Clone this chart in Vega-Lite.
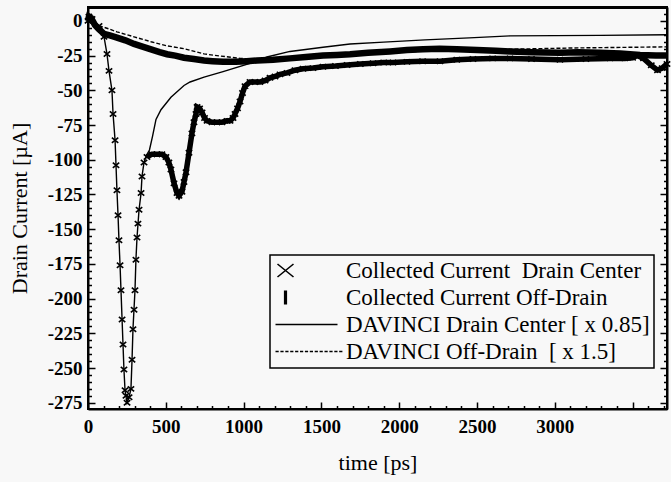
{
  "$schema": "https://vega.github.io/schema/vega-lite/v6.json",
  "width": 579,
  "height": 402,
  "autosize": "none",
  "padding": {"left": 88, "top": 7, "right": 4, "bottom": 73},
  "background": "#f8f8f8",
  "config": {
    "view": {"stroke": "black", "strokeWidth": 2},
    "axis": {"grid": false, "domainColor": "black", "tickColor": "black", "labelColor": "black", "titleColor": "black", "labelFont": "Liberation Serif", "titleFont": "Liberation Serif", "domainWidth": 2, "tickWidth": 1.5, "labelFlush": false},
    "legend": {"strokeWidth": 1.5}
  },
  "datasets": {
    "C": [
      {"t":0,"i":0},{"t":26,"i":1.4},{"t":71,"i":-3.6},{"t":103,"i":-11.5},{"t":122,"i":-23.8},{"t":135,"i":-36},{"t":154,"i":-50},{"t":161,"i":-67},{"t":174,"i":-86},{"t":180,"i":-104},{"t":186,"i":-122},{"t":193,"i":-140},{"t":199,"i":-158},{"t":206,"i":-176},{"t":212,"i":-194},{"t":219,"i":-215},{"t":225,"i":-233},{"t":231,"i":-251},{"t":238,"i":-266},{"t":251,"i":-275},{"t":264,"i":-271},{"t":276,"i":-265},{"t":283,"i":-244},{"t":289,"i":-222},{"t":302,"i":-194},{"t":308,"i":-172},{"t":315,"i":-156},{"t":328,"i":-136},{"t":341,"i":-124},{"t":347,"i":-112},{"t":360,"i":-102},{"t":375,"i":-97},{"t":395,"i":-93},{"t":415,"i":-83},{"t":437,"i":-71},{"t":469,"i":-64},{"t":533,"i":-55},{"t":617,"i":-46.5},{"t":656,"i":-44},{"t":746,"i":-40.5},{"t":868,"i":-36.5},{"t":1086,"i":-29},{"t":1150,"i":-26},{"t":1298,"i":-22},{"t":1510,"i":-19},{"t":1684,"i":-16.6},{"t":1900,"i":-15.3},{"t":2166,"i":-13.7},{"t":2450,"i":-12.2},{"t":2712,"i":-10.8},{"t":3000,"i":-10.6},{"t":3290,"i":-10.4},{"t":3721,"i":-10}
    ],
    "D": [
      {"t":0,"i":0},{"t":30,"i":-2},{"t":135,"i":-5.8},{"t":186,"i":-7.9},{"t":296,"i":-11.5},{"t":405,"i":-15},{"t":508,"i":-18},{"t":617,"i":-20},{"t":746,"i":-23.8},{"t":829,"i":-25},{"t":977,"i":-27},{"t":1105,"i":-28},{"t":1298,"i":-27.5},{"t":1620,"i":-24.5},{"t":2005,"i":-22.3},{"t":2455,"i":-21},{"t":3117,"i":-19.5},{"t":3721,"i":-18.7}
    ],
    "B": [
      {"t":0,"i":0},{"t":6,"i":3},{"t":20,"i":2},{"t":45,"i":-3},{"t":70,"i":-6},{"t":103,"i":-9.4},{"t":140,"i":-10.5},{"t":186,"i":-12},{"t":240,"i":-14},{"t":296,"i":-16.6},{"t":350,"i":-18.5},{"t":405,"i":-20.5},{"t":460,"i":-22.5},{"t":508,"i":-24},{"t":560,"i":-25},{"t":617,"i":-26.5},{"t":680,"i":-27.5},{"t":746,"i":-28.5},{"t":800,"i":-29},{"t":868,"i":-29.5},{"t":950,"i":-29.5},{"t":1020,"i":-29},{"t":1086,"i":-28.5},{"t":1190,"i":-28},{"t":1298,"i":-27},{"t":1400,"i":-26},{"t":1510,"i":-25},{"t":1600,"i":-24.5},{"t":1684,"i":-24},{"t":1800,"i":-23},{"t":1941,"i":-22},{"t":2050,"i":-21},{"t":2153,"i":-20.5},{"t":2260,"i":-20},{"t":2371,"i":-20.5},{"t":2500,"i":-21},{"t":2620,"i":-21.5},{"t":2712,"i":-22},{"t":2850,"i":-22.5},{"t":3033,"i":-23},{"t":3150,"i":-22.5},{"t":3290,"i":-23},{"t":3420,"i":-23.5},{"t":3548,"i":-24.5},{"t":3650,"i":-25},{"t":3721,"i":-25}
    ],
    "A": [
      {"t":0,"i":0},{"t":6,"i":3},{"t":26,"i":1.4},{"t":71,"i":-3.6},{"t":103,"i":-11.5},{"t":122,"i":-23.8},{"t":135,"i":-36},{"t":154,"i":-50},{"t":161,"i":-67},{"t":174,"i":-86},{"t":180,"i":-104},{"t":186,"i":-122},{"t":193,"i":-140},{"t":199,"i":-158},{"t":206,"i":-176},{"t":212,"i":-194},{"t":219,"i":-215},{"t":225,"i":-233},{"t":231,"i":-251},{"t":238,"i":-266},{"t":244,"i":-270},{"t":251,"i":-275},{"t":264,"i":-271},{"t":276,"i":-265},{"t":283,"i":-244},{"t":289,"i":-222},{"t":296,"i":-208},{"t":302,"i":-194},{"t":308,"i":-172},{"t":315,"i":-156},{"t":321,"i":-146},{"t":328,"i":-136},{"t":341,"i":-124},{"t":347,"i":-112},{"t":360,"i":-102},{"t":379,"i":-98},{"t":411,"i":-96},{"t":443,"i":-96},{"t":475,"i":-96},{"t":501,"i":-98},{"t":520,"i":-102},{"t":533,"i":-107},{"t":553,"i":-117},{"t":572,"i":-124},{"t":585,"i":-126},{"t":604,"i":-123},{"t":617,"i":-116},{"t":630,"i":-109},{"t":649,"i":-95},{"t":668,"i":-81},{"t":681,"i":-73},{"t":694,"i":-67},{"t":701,"i":-62},{"t":717,"i":-63},{"t":733,"i":-66},{"t":749,"i":-70},{"t":765,"i":-72},{"t":797,"i":-73},{"t":829,"i":-73},{"t":861,"i":-73},{"t":893,"i":-72},{"t":913,"i":-72},{"t":932,"i":-70},{"t":945,"i":-67},{"t":961,"i":-63},{"t":977,"i":-58},{"t":993,"i":-52},{"t":1009,"i":-47},{"t":1041,"i":-44},{"t":1073,"i":-44},{"t":1105,"i":-44},{"t":1138,"i":-43},{"t":1170,"i":-41},{"t":1202,"i":-40},{"t":1234,"i":-38.5},{"t":1279,"i":-37.5},{"t":1330,"i":-35.5},{"t":1382,"i":-34.5},{"t":1446,"i":-34},{"t":1510,"i":-33},{"t":1590,"i":-32.5},{"t":1665,"i":-31.7},{"t":1750,"i":-31},{"t":1832,"i":-30.5},{"t":1900,"i":-30},{"t":1960,"i":-30},{"t":2050,"i":-29.5},{"t":2150,"i":-29},{"t":2262,"i":-29},{"t":2370,"i":-28},{"t":2474,"i":-27.5},{"t":2600,"i":-27},{"t":2712,"i":-27},{"t":2850,"i":-27.5},{"t":3033,"i":-28},{"t":3200,"i":-27.5},{"t":3355,"i":-27},{"t":3450,"i":-27},{"t":3500,"i":-26.5},{"t":3530,"i":-25},{"t":3570,"i":-27},{"t":3620,"i":-32},{"t":3660,"i":-35.5},{"t":3690,"i":-34},{"t":3721,"i":-31}
    ],
    "frame": [{"top": 9.3}],
    "legend": [
      {"s": "Collected Current\u00a0 Drain Center", "t": 0, "i": 0},
      {"s": "Collected Current Off-Drain", "t": 0, "i": 0},
      {"s": "DAVINCI Drain Center [ x 0.85]", "t": 0, "i": 0},
      {"s": "DAVINCI Off-Drain\u00a0 [ x 1.5]", "t": 0, "i": 0}
    ]
  },
  "resolve": {"axis": {"x": "independent", "y": "independent"}},
  "layer": [
    {
      "data": {"name": "C"},
      "mark": {"type": "line", "color": "black", "strokeWidth": 1.4},
      "encoding": {
        "x": {"field": "t", "type": "quantitative", "scale": {"domain": [0, 3721], "nice": false, "zero": false},
              "axis": {"orient": "bottom", "values": [0, 500, 1000, 1500, 2000, 2500, 3000], "ticks": false, "labelExpr": "datum.value + ''", "labelFontSize": 19, "labelFontWeight": "bold", "labelPadding": 8, "title": "time [ps]", "titleFontSize": 22, "titleFontWeight": "normal", "titlePadding": 16}},
        "y": {"field": "i", "type": "quantitative", "scale": {"domain": [-279.5, 10], "nice": false, "zero": false},
              "axis": {"orient": "left", "values": [0, -25, -50, -75, -100, -125, -150, -175, -200, -225, -250, -275], "ticks": false, "labelExpr": "datum.value + ''", "labelFontSize": 19, "labelFontWeight": "bold", "labelPadding": 6, "title": "Drain Current [µA]", "titleFontSize": 22, "titleFontWeight": "normal", "titlePadding": 16}}
      }
    },
    {
      "data": {"name": "D"},
      "mark": {"type": "line", "color": "black", "strokeWidth": 1.4, "strokeDash": [4, 2]},
      "encoding": {
        "x": {"field": "t", "type": "quantitative", "scale": {"domain": [0, 3721], "nice": false, "zero": false},
              "axis": {"orient": "bottom", "values": [0, 500, 1000, 1500, 2000, 2500, 3000, 3500], "labels": false, "domain": false, "tickSize": -7, "title": null}},
        "y": {"field": "i", "type": "quantitative", "scale": {"domain": [-279.5, 10], "nice": false, "zero": false},
              "axis": {"orient": "left", "values": [0, -25, -50, -75, -100, -125, -150, -175, -200, -225, -250, -275], "labels": false, "domain": false, "tickSize": -7, "title": null}}
      }
    },
    {
      "data": {"name": "B"},
      "mark": {"type": "line", "color": "black", "strokeWidth": 6.5},
      "encoding": {
        "x": {"field": "t", "type": "quantitative", "scale": {"domain": [0, 3721], "nice": false, "zero": false},
              "axis": {"orient": "bottom", "values": [100, 200, 300, 400, 600, 700, 800, 900, 1100, 1200, 1300, 1400, 1600, 1700, 1800, 1900, 2100, 2200, 2300, 2400, 2600, 2700, 2800, 2900, 3100, 3200, 3300, 3400, 3600, 3700], "labels": false, "domain": false, "tickSize": -3.5, "title": null}},
        "y": {"field": "i", "type": "quantitative", "scale": {"domain": [-279.5, 10], "nice": false, "zero": false},
              "axis": {"orient": "left", "values": [5, -5, -10, -15, -20, -30, -35, -40, -45, -55, -60, -65, -70, -80, -85, -90, -95, -105, -110, -115, -120, -130, -135, -140, -145, -155, -160, -165, -170, -180, -185, -190, -195, -205, -210, -215, -220, -230, -235, -240, -245, -255, -260, -265, -270], "labels": false, "domain": false, "tickSize": -3.5, "title": null}}
      }
    },
    {
      "data": {"name": "A"},
      "transform": [{"filter": {"field": "t", "gte": 370}}],
      "mark": {"type": "line", "color": "black", "strokeWidth": 5.5},
      "encoding": {
        "x": {"field": "t", "type": "quantitative", "scale": {"domain": [0, 3721], "nice": false, "zero": false}, "axis": null},
        "y": {"field": "i", "type": "quantitative", "scale": {"domain": [-279.5, 10], "nice": false, "zero": false},
              "axis": {"orient": "right", "values": [0, -25, -50, -75, -100, -125, -150, -175, -200, -225, -250, -275], "labels": false, "tickSize": -7, "title": null}}
      }
    },
    {
      "data": {"name": "A"},
      "mark": {"type": "point", "color": "black", "filled": false, "strokeWidth": 1.6, "size": 64, "opacity": 1, "shape": "M-0.8,-0.65L0.8,0.65M-0.8,0.65L0.8,-0.65"},
      "encoding": {
        "x": {"field": "t", "type": "quantitative", "scale": {"domain": [0, 3721], "nice": false, "zero": false}, "axis": null},
        "y": {"field": "i", "type": "quantitative", "scale": {"domain": [-279.5, 10], "nice": false, "zero": false},
              "axis": {"orient": "right", "values": [5, -5, -10, -15, -20, -30, -35, -40, -45, -55, -60, -65, -70, -80, -85, -90, -95, -105, -110, -115, -120, -130, -135, -140, -145, -155, -160, -165, -170, -180, -185, -190, -195, -205, -210, -215, -220, -230, -235, -240, -245, -255, -260, -265, -270], "labels": false, "domain": false, "tickSize": -3.5, "title": null}}
      }
    },
    {
      "data": {"name": "frame"},
      "mark": {"type": "rule", "color": "black", "strokeWidth": 2.2},
      "encoding": {
        "y": {"field": "top", "type": "quantitative", "scale": {"domain": [-279.5, 10], "nice": false, "zero": false}, "axis": null}
      }
    },
    {
      "data": {"name": "legend"},
      "mark": {"type": "point", "color": "black", "filled": false, "strokeWidth": 2, "size": 400, "opacity": 0},
      "encoding": {
        "x": {"field": "t", "type": "quantitative", "scale": {"domain": [0, 3721], "nice": false, "zero": false}, "axis": null},
        "y": {"field": "i", "type": "quantitative", "scale": {"domain": [-279.5, 10], "nice": false, "zero": false}, "axis": null},
        "shape": {"field": "s", "type": "nominal",
          "scale": {"domain": ["Collected Current\u00a0 Drain Center", "Collected Current Off-Drain", "DAVINCI Drain Center [ x 0.85]", "DAVINCI Off-Drain\u00a0 [ x 1.5]"], "range": [
            "M-0.8,-0.65L0.8,0.65M-0.8,0.65L0.8,-0.65",
            "M-0.08,-0.7L-0.08,0.7M0.08,-0.7L0.08,0.7",
            "M-1,0L5.2,0",
            "M-1,0L-0.68,0M-0.51,0L-0.19,0M-0.02,0L0.3,0M0.47,0L0.79,0M0.96,0L1.28,0M1.45,0L1.77,0M1.94,0L2.26,0M2.43,0L2.75,0M2.92,0L3.24,0M3.41,0L3.73,0M3.9,0L4.22,0M4.39,0L4.71,0M4.88,0L5.2,0M5.37,0L5.69,0"
          ]},
          "legend": {
            "orient": "none", "legendX": 182, "legendY": 248,
            "title": null,
            "padding": 4,
            "strokeColor": "black", "fillColor": "#f8f8f8",
            "symbolSize": 400, "symbolStrokeColor": "black", "symbolFillColor": "transparent", "symbolStrokeWidth": 1.6, "symbolOpacity": 1,
            "labelFont": "Liberation Serif", "labelFontSize": 23, "labelColor": "black", "labelOffset": 49, "labelLimit": 500,
            "rowPadding": 3
          }
        }
      }
    }
  ]
}
